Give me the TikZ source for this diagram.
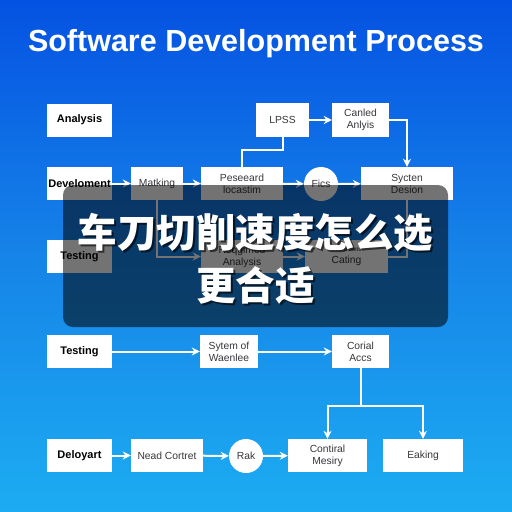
\documentclass[tikz,border=0pt]{standalone}
\usepackage{fontspec}
\setmainfont{Liberation Sans}
\newfontfamily\cjk{Noto Sans CJK SC}
\usepackage{tikz}
\usetikzlibrary{positioning}
\usetikzlibrary{arrows.meta}

\definecolor{bgtop}{RGB}{5,82,226}
\definecolor{bgmid}{RGB}{22,132,232}
\definecolor{bgbot}{RGB}{28,172,242}
\definecolor{boxtext}{RGB}{55,55,60}

\tikzset{
	stagebox/.style={draw=none, fill=white, minimum height=33pt, inner sep=1pt,
		font=\fontsize{11}{12}\selectfont\bfseries, text=black},
	stepbox/.style={draw=none, fill=white, minimum height=33pt, inner sep=1pt, align=center,
		font=\fontsize{10.3}{12}\selectfont, text=boxtext},
	roundnode/.style={circle, fill=white, minimum size=34pt, inner sep=0pt,
		font=\fontsize{10.3}{12}\selectfont, text=boxtext},
	flow/.style={draw=white, line width=2pt, -{Stealth[length=8pt,width=8pt]}},
	link/.style={draw=white, line width=2pt}
}

\begin{document}
\begin{tikzpicture}[x=1pt, y=-1pt]
		\useasboundingbox (0,0) rectangle (512,512);
		\shade[top color=bgtop, bottom color=bgbot, middle color=bgmid] (0,0) rectangle (512,512);
		\node[text=white, font=\fontsize{30.5}{33}\selectfont\bfseries] (title) at (256,44) {Software Development Process};

		% upper part
		\node[stagebox, minimum width=65pt] (ana) at (79.5,120) {Analysis};
		\node[stagebox, minimum width=65pt] (dev) at (79.5,183.5) {Develoment};
		\node[stepbox, minimum width=52pt] (mat) at (157,183.5) {Matking};
		\node[stepbox, minimum width=82pt] (pes) at (242,183.5) {Peseeard\\locastim};
		\node[roundnode] (fics) at (321,184) {Fics};
		\node[stepbox, minimum width=92pt] (sys) at (407,183.5) {Sycten\\Desion};
		\node[stepbox, minimum width=53pt, minimum height=34pt] (lpss) at (282.5,120) {LPSS};
		\node[stepbox, minimum width=57pt, minimum height=34pt] (can) at (360.5,120) {Canled\\Anlyis};
		\node[stagebox, minimum width=65pt] (tst1) at (79.5,256.5) {Testing};
		\node[stepbox, minimum width=82pt] (req) at (242,256.5) {Reqgimed\\Analysis};
		\node[stepbox, minimum width=83pt] (cat) at (346.5,256.5) {{\fontsize{6}{7}\selectfont Sas-ucsets}\\Cating};

		\draw[flow] (dev) -- (mat);
		\draw[flow] (mat) -- (pes);
		\draw[flow] (pes) -- (fics);
		\draw[flow] (fics) -- (sys);
		\draw[flow] (lpss) -- (can);
		\draw[flow] (can.east) -| (sys.north);
		\draw[link] (lpss.south) |- (242,150) -- (pes.north);
		\draw[flow] (mat.south) |- (req.west);
		\draw[flow] (req) -- (cat);
		\draw[link] (sys.south) |- (cat.east);

		% lower part
		\node[stagebox, minimum width=65pt] (tst2) at (79.5,351.5) {Testing};
		\node[stepbox, minimum width=58pt] (sow) at (229,351.5) {Sytem of\\Waenlee};
		\node[stepbox, minimum width=57pt] (cor) at (360.5,351.5) {Corial\\Accs};
		\node[stagebox, minimum width=65pt] (del) at (79.5,455.5) {Deloyart};
		\node[stepbox, minimum width=72pt] (need) at (167,455.5) {Nead Cortret};
		\node[roundnode] (rak) at (246,456) {Rak};
		\node[stepbox, minimum width=79pt] (ctl) at (327.5,455.5) {Contiral\\Mesiry};
		\node[stepbox, minimum width=80pt] (eak) at (423,455.5) {Eaking};
		\coordinate (split) at (360.5,406);

		\draw[flow] (tst2) -- (sow);
		\draw[flow] (sow) -- (cor);
		\draw[link] (cor.south) -- (split);
		\draw[flow] (split) -| (ctl.north);
		\draw[flow] (split) -| (eak.north);
		\draw[flow] (del) -- (need);
		\draw[flow] (need) -- (rak);
		\draw[flow] (rak) -- (ctl);

		% caption overlay
		\node[fill=black, fill opacity=0.55, rounded corners=10pt, minimum width=385pt,
			minimum height=142pt, inner sep=0pt] (veil) at (255.5,256) {};
		\node[text=black, text opacity=0.6, font=\cjk\bfseries\fontsize{39.5}{53}\selectfont, align=center]
			(capshadow) at (257.5,261) {车刀切削速度怎么选\\更合适};
		\node[text=white, font=\cjk\bfseries\fontsize{39.5}{53}\selectfont, align=center]
			(caption) at (255.5,259) {车刀切削速度怎么选\\更合适};
	\end{tikzpicture}
\end{document}
